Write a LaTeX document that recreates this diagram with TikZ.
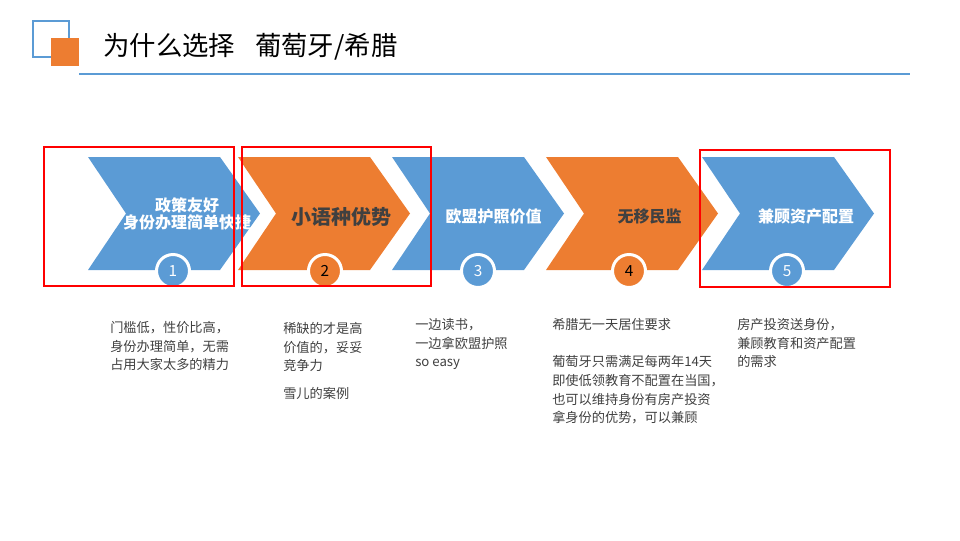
\documentclass[tikz,border=0pt]{standalone}
\usepackage{fontspec}
\setmainfont{Noto Sans CJK SC}
\usepackage{xcolor}
\usepackage{tikz}
\usetikzlibrary{positioning}
\definecolor{slideblue}{HTML}{5B9BD5}
\definecolor{slideorange}{HTML}{ED7D31}
\definecolor{slidetext}{HTML}{404040}
\definecolor{markred}{HTML}{FF0000}

\begin{document}
\begin{tikzpicture}[
  x=0.75pt, y=-0.75pt,
  chevblue/.style={fill=slideblue},
  chevorange/.style={fill=slideorange},
  chevtext/.style={font=\bfseries\fontsize{12}{12.8}\selectfont, text=white,
                   align=center, inner sep=0pt},
  badge/.style={circle, draw=white, line width=2.25pt, minimum size=24.75pt,
                inner sep=0pt, font=\fontsize{11.5}{12}\selectfont},
  note/.style={anchor=north west, align=left, inner sep=0pt, text=slidetext,
               font=\fontsize{9.9}{14}\selectfont},
  marker/.style={draw=markred, line width=1.5pt}
]
  \useasboundingbox (0,0) rectangle (960,540);

  % title bar
  \draw[slideblue, line width=1.5pt] (33,21) rectangle (69,57);
  \fill[slideorange] (51,38) rectangle (79,66);
  \node[anchor=west, inner sep=0pt, font=\fontsize{19.8}{22}\selectfont] (title) at (103,47)
    {为什么选择\hspace{0.75em}葡萄牙/希腊};
  \draw[slideblue, line width=1.5pt] (79,74) -- (910,74);

  % chevrons
  \fill[chevblue]   (88,157) -- (220,157) -- (260,213.5) -- (220,270) -- (88,270) -- (126,213.5) -- cycle;
  \fill[chevorange] (238,157) -- (370,157) -- (410,213.5) -- (370,270) -- (238,270) -- (276,213.5) -- cycle;
  \fill[chevblue]   (392,157) -- (524,157) -- (564,213.5) -- (524,270) -- (392,270) -- (430,213.5) -- cycle;
  \fill[chevorange] (546,157) -- (678,157) -- (718,213.5) -- (678,270) -- (546,270) -- (584,213.5) -- cycle;
  \fill[chevblue]   (702,157) -- (834,157) -- (874,213.5) -- (834,270) -- (702,270) -- (740,213.5) -- cycle;

  \node[chevtext] (policy) at (187,213.5) {政策友好\\身份办理简单快捷};
  \node[chevtext, text=slidetext, font=\bfseries\fontsize{15}{17}\selectfont] (language) at (341,217) {小语种优势};
  \node[chevtext] (passport) at (493.5,216) {欧盟护照价值};
  \node[chevtext, text=slidetext] (residence) at (649.5,216) {无移民监};
  \node[chevtext] (asset) at (806,216) {兼顾资产配置};

  % numbers
  \node[badge, fill=slideblue, text=white] (num1) at (173,271) {1};
  \node[badge, fill=slideorange, text=black] (num2) at (325,271) {2};
  \node[badge, fill=slideblue, text=white] (num3) at (478,271) {3};
  \node[badge, fill=slideorange, text=black] (num4) at (629,271) {4};
  \node[badge, fill=slideblue, text=white] (num5) at (787,271) {5};

  % highlight frames
  \draw[marker] (44,147) rectangle (234,286);
  \draw[marker] (242,147) rectangle (431,286);
  \draw[marker] (700,150) rectangle (890,287);

  % notes
  \node[note] (note1) at (110,321) {门槛低，性价比高，\\身份办理简单，无需\\占用大家太多的精力};
  \node[note] (note2) at (283,322) {稀缺的才是高\\价值的，妥妥\\竞争力\\[7pt]雪儿的案例};
  \node[note] (note3) at (415,318) {一边读书，\\一边拿欧盟护照\\so easy};
  \node[note] (note4) at (552,318) {希腊无一天居住要求\\[14pt]葡萄牙只需满足每两年14天\\即使低领教育不配置在当国，\\也可以维持身份有房产投资\\拿身份的优势，可以兼顾};
  \node[note] (note5) at (737,318) {房产投资送身份，\\兼顾教育和资产配置\\的需求};
\end{tikzpicture}
\end{document}
